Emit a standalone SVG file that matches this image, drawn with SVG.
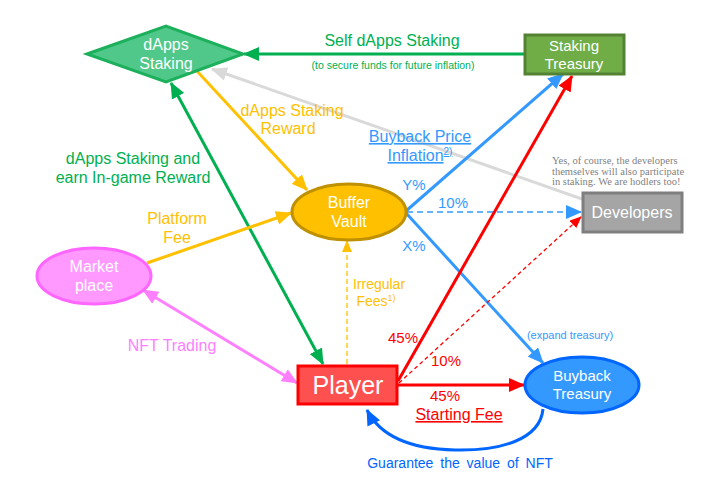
<svg xmlns="http://www.w3.org/2000/svg" width="709" height="480" viewBox="0 0 709 480">
<style>
text{font-family:"Liberation Sans",Arial,sans-serif;text-anchor:middle}
.w{fill:#fff;font-size:16px}
.lbl{font-size:16px}
.sm{font-size:10.5px}
.g{fill:#00B050}.o{fill:#FFC000}.b{fill:#3399FF}.r{fill:#FF0000}.p{fill:#FF80FF}
.note{font-family:"Liberation Serif","Times New Roman",serif;font-size:10.5px;fill:#7F7F7F;text-anchor:start}
.ln{fill:none;stroke-width:3}
</style>
<defs>
<marker id="aG" markerUnits="userSpaceOnUse" markerWidth="16" markerHeight="14" refX="15" refY="7" orient="auto-start-reverse"><path d="M0,0 L16,7 L0,14 z" fill="#00B050"/></marker>
<marker id="aO" markerUnits="userSpaceOnUse" markerWidth="16" markerHeight="14" refX="15" refY="7" orient="auto"><path d="M0,0 L16,7 L0,14 z" fill="#FFC000"/></marker>
<marker id="aO2" markerUnits="userSpaceOnUse" markerWidth="12" markerHeight="10" refX="11" refY="5" orient="auto"><path d="M0,0 L12,5 L0,10 z" fill="#FFC000"/></marker>
<marker id="aB" markerUnits="userSpaceOnUse" markerWidth="16" markerHeight="14" refX="15" refY="7" orient="auto"><path d="M0,0 L16,7 L0,14 z" fill="#3399FF"/></marker>
<marker id="aB2" markerUnits="userSpaceOnUse" markerWidth="16" markerHeight="14" refX="15" refY="7" orient="auto"><path d="M0,0 L16,7 L0,14 z" fill="#0066FF"/></marker>
<marker id="aR" markerUnits="userSpaceOnUse" markerWidth="16" markerHeight="14" refX="15" refY="7" orient="auto"><path d="M0,0 L16,7 L0,14 z" fill="#FF0000"/></marker>
<marker id="aR2" markerUnits="userSpaceOnUse" markerWidth="12" markerHeight="10" refX="11" refY="5" orient="auto"><path d="M0,0 L12,5 L0,10 z" fill="#FF0000"/></marker>
<marker id="aP" markerUnits="userSpaceOnUse" markerWidth="16" markerHeight="14" refX="15" refY="7" orient="auto-start-reverse"><path d="M0,0 L16,7 L0,14 z" fill="#FF80FF"/></marker>
<marker id="aGr" markerUnits="userSpaceOnUse" markerWidth="16" markerHeight="14" refX="15" refY="7" orient="auto"><path d="M0,0 L16,7 L0,14 z" fill="#D9D9D9"/></marker>
</defs>

<g id="connectors">
<line class="ln" x1="582" y1="199" x2="212" y2="69" stroke="#D9D9D9" marker-end="url(#aGr)"/>
<line class="ln" x1="524" y1="54" x2="244" y2="54" stroke="#00B050" marker-end="url(#aG)"/>
<line class="ln" x1="171" y1="83" x2="323" y2="364" stroke="#00B050" marker-start="url(#aG)" marker-end="url(#aG)"/>
<line class="ln" x1="196" y1="70" x2="307" y2="190" stroke="#FFC000" marker-end="url(#aO)"/>
<line class="ln" x1="147" y1="263" x2="291" y2="213" stroke="#FFC000" marker-end="url(#aO)"/>
<line x1="347" y1="364" x2="347" y2="241" stroke="#FFC000" stroke-width="1.3" stroke-dasharray="5,3" fill="none" marker-end="url(#aO2)"/>
<line class="ln" x1="143" y1="290" x2="297" y2="383" stroke="#FF80FF" marker-start="url(#aP)" marker-end="url(#aP)"/>
<line class="ln" x1="406" y1="211" x2="563" y2="74" stroke="#3399FF" marker-end="url(#aB)"/>
<line class="ln" x1="406" y1="213" x2="543" y2="363" stroke="#3399FF" marker-end="url(#aB)"/>
<line x1="407" y1="212" x2="581" y2="212" stroke="#3399FF" stroke-width="1.5" stroke-dasharray="6,4" fill="none" marker-end="url(#aB)"/>
<line class="ln" x1="398" y1="381" x2="572" y2="76" stroke="#FF0000" marker-end="url(#aR)"/>
<line x1="399" y1="383" x2="581" y2="217" stroke="#FF0000" stroke-width="1.3" stroke-dasharray="4,3" fill="none" marker-end="url(#aR2)"/>
<line class="ln" x1="398" y1="385" x2="524" y2="385" stroke="#FF0000" marker-end="url(#aR)"/>
<path class="ln" d="M543,409 C540,440 500,451 455,450 C410,449 380,436 367,410" stroke="#0066FF" marker-end="url(#aB2)"/>
</g>

<g id="dapps-staking">
<polygon points="87,54 166,26 243,54 166,82" fill="#50C88A" stroke="#1DB05C" stroke-width="3"/>
<text class="w" x="166" y="50">dApps</text>
<text class="w" x="166" y="69">Staking</text>
</g>
<g id="staking-treasury">
<rect x="525" y="35" width="99" height="39" fill="#70AD47" stroke="#548235" stroke-width="3"/>
<text class="w" x="574" y="51" style="font-size:15px">Staking</text>
<text class="w" x="574" y="69" style="font-size:15px">Treasury</text>
</g>
<g id="buffer-vault">
<ellipse cx="349" cy="212" rx="57" ry="28" fill="#FFC000" stroke="#BF9000" stroke-width="3"/>
<text class="w" x="349" y="208">Buffer</text>
<text class="w" x="349" y="227">Vault</text>
</g>
<g id="developers">
<rect x="583" y="193" width="99" height="39" fill="#A5A5A5" stroke="#7F7F7F" stroke-width="3"/>
<text class="w" x="632" y="218">Developers</text>
</g>
<g id="market-place">
<ellipse cx="94" cy="276" rx="57" ry="28" fill="#FF99FF" stroke="#FF66FF" stroke-width="3"/>
<text class="w" x="94" y="272">Market</text>
<text class="w" x="94" y="291">place</text>
</g>
<g id="player">
<rect x="298" y="366" width="99" height="38" fill="#FF5050" stroke="#FF0000" stroke-width="3"/>
<text class="w" x="348" y="394" style="font-size:25px">Player</text>
</g>
<g id="buyback-treasury">
<ellipse cx="582" cy="385" rx="57" ry="28" fill="#3399FF" stroke="#0066FF" stroke-width="3"/>
<text class="w" x="582" y="381" style="font-size:15px">Buyback</text>
<text class="w" x="582" y="399" style="font-size:15px">Treasury</text>
</g>

<g id="labels">
<text class="lbl g" x="392" y="46">Self dApps Staking</text>
<text class="sm g" x="393" y="69">(to secure funds for future inflation)</text>
<text class="lbl o" x="292" y="116">dApps Staking</text>
<text class="lbl o" x="288" y="134">Reward</text>
<text class="lbl g" x="133" y="164">dApps Staking and</text>
<text class="lbl g" x="133" y="183">earn In-game Reward</text>
<text class="lbl o" x="177" y="224">Platform</text>
<text class="lbl o" x="177" y="243">Fee</text>
<text class="lbl b" x="420" y="142" text-decoration="underline">Buyback Price</text>
<text class="lbl b" x="420" y="161" text-decoration="underline">Inflation<tspan font-size="10" dy="-6">2)</tspan></text>
<text class="lbl b" x="414" y="190" style="font-size:15px">Y%</text>
<text class="lbl b" x="453" y="208" style="font-size:15px">10%</text>
<text class="lbl b" x="414" y="251" style="font-size:15px">X%</text>
<text class="note" x="552" y="164">Yes, of course, the developers</text>
<text class="note" x="552" y="174.5">themselves will also participate</text>
<text class="note" x="552" y="185">in staking. We are hodlers too!</text>
<text class="lbl o" x="379" y="289" style="font-size:14px">Irregular</text>
<text class="lbl o" x="376" y="306" style="font-size:14px">Fees<tspan font-size="9" dy="-5">1)</tspan></text>
<text class="lbl p" x="172" y="351">NFT Trading</text>
<text class="lbl r" x="403" y="343" style="font-size:15px">45%</text>
<text class="lbl r" x="446" y="366" style="font-size:15px">10%</text>
<text class="sm b" x="570" y="339" style="font-size:11px">(expand treasury)</text>
<text class="lbl r" x="445" y="401" style="font-size:15px">45%</text>
<text class="lbl r" x="459" y="420" text-decoration="underline">Starting Fee</text>
<text class="lbl" x="460" y="468" style="fill:#0066FF;font-size:14px;word-spacing:3px">Guarantee the value of NFT</text>
</g>
</svg>
